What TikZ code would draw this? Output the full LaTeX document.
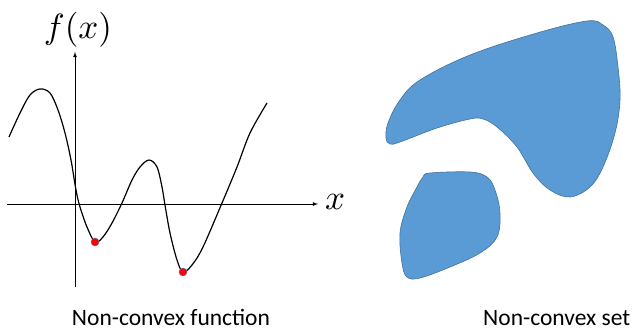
\documentclass[tikz,border=0pt]{standalone}
\usepackage{fontspec}
\newfontfamily\labelfont{Carlito}
\usepackage{xcolor}
\usepackage{tikz}
\usetikzlibrary{arrows,positioning}
\definecolor{setblue}{HTML}{5B9BD5}
\definecolor{setedge}{HTML}{41719C}
\definecolor{dotedge}{HTML}{4472C4}

\begin{document}
\begin{tikzpicture}[
  x=1pt, y=1pt,
  axis/.style={->, >=latex, line width=0.8pt},
  curve/.style={line width=1.2pt},
  mindot/.style={circle, fill=red, draw=dotedge, line width=0.4pt, inner sep=0pt, minimum size=8pt},
  blob/.style={fill=setblue, draw=setedge, line width=0.6pt},
  caption/.style={font=\labelfont\fontsize{23.5}{28}\selectfont, inner sep=0pt},
  mathlabel/.style={scale=3.5, inner sep=0pt}
]
  \useasboundingbox (0,0) rectangle (635,332);

  % Axes
  \coordinate (xl) at (7,128);
  \coordinate (xr) at (318,128);
  \coordinate (yb) at (75,45);
  \coordinate (yt) at (75,280);
  \draw[axis] (xl) -- (xr);
  \draw[axis] (yb) -- (yt);
  \node[mathlabel] (xlab) at (335,130) {$x$};
  \node[mathlabel] (flab) at (78,302) {$f(x)$};

  % Function
  \draw[curve] plot[smooth, tension=0.55] coordinates {
    (9,195) (20,219) (30,237) (40,243) (50,239) (58,222) (65,199) (71,172)
    (76,142) (80,125) (87,105) (95,90) (103,95) (112,109) (122,129) (132,152)
    (140,165) (149,172) (157,165) (162,145) (165,127) (170,99) (177,72)
    (183,60) (192,67) (203,85) (222,129) (237,165) (250,199) (267,229)};
  \node[mindot] (min1) at (95,90) {};
  \node[mindot] (min2) at (183,60) {};

  % Sets
  \draw[blob] plot[smooth cycle, tension=0.6] coordinates {
    (420,252) (470,277) (537,299) (587,311) (603,307) (613,295) (618,265)
    (620,232) (615,199) (603,165) (590,145) (570,135) (550,142) (533,159)
    (517,185) (497,205) (483,213) (470,213) (437,204) (400,190) (390,188)
    (386,194) (388,209) (400,232)};
  \draw[blob] plot[smooth cycle, tension=0.6] coordinates {
    (430,159) (470,160) (487,155) (495,142) (500,119) (497,95) (480,79)
    (450,65) (420,54) (407,55) (402,69) (400,99) (407,125) (417,145) (423,155)};

  % Captions
  \node[caption, anchor=base] (fcap) at (171,6.5) {Non-convex function};
  \node[caption, anchor=base west] (scap) at (483,6.5) {Non-convex set};
\end{tikzpicture}
\end{document}
